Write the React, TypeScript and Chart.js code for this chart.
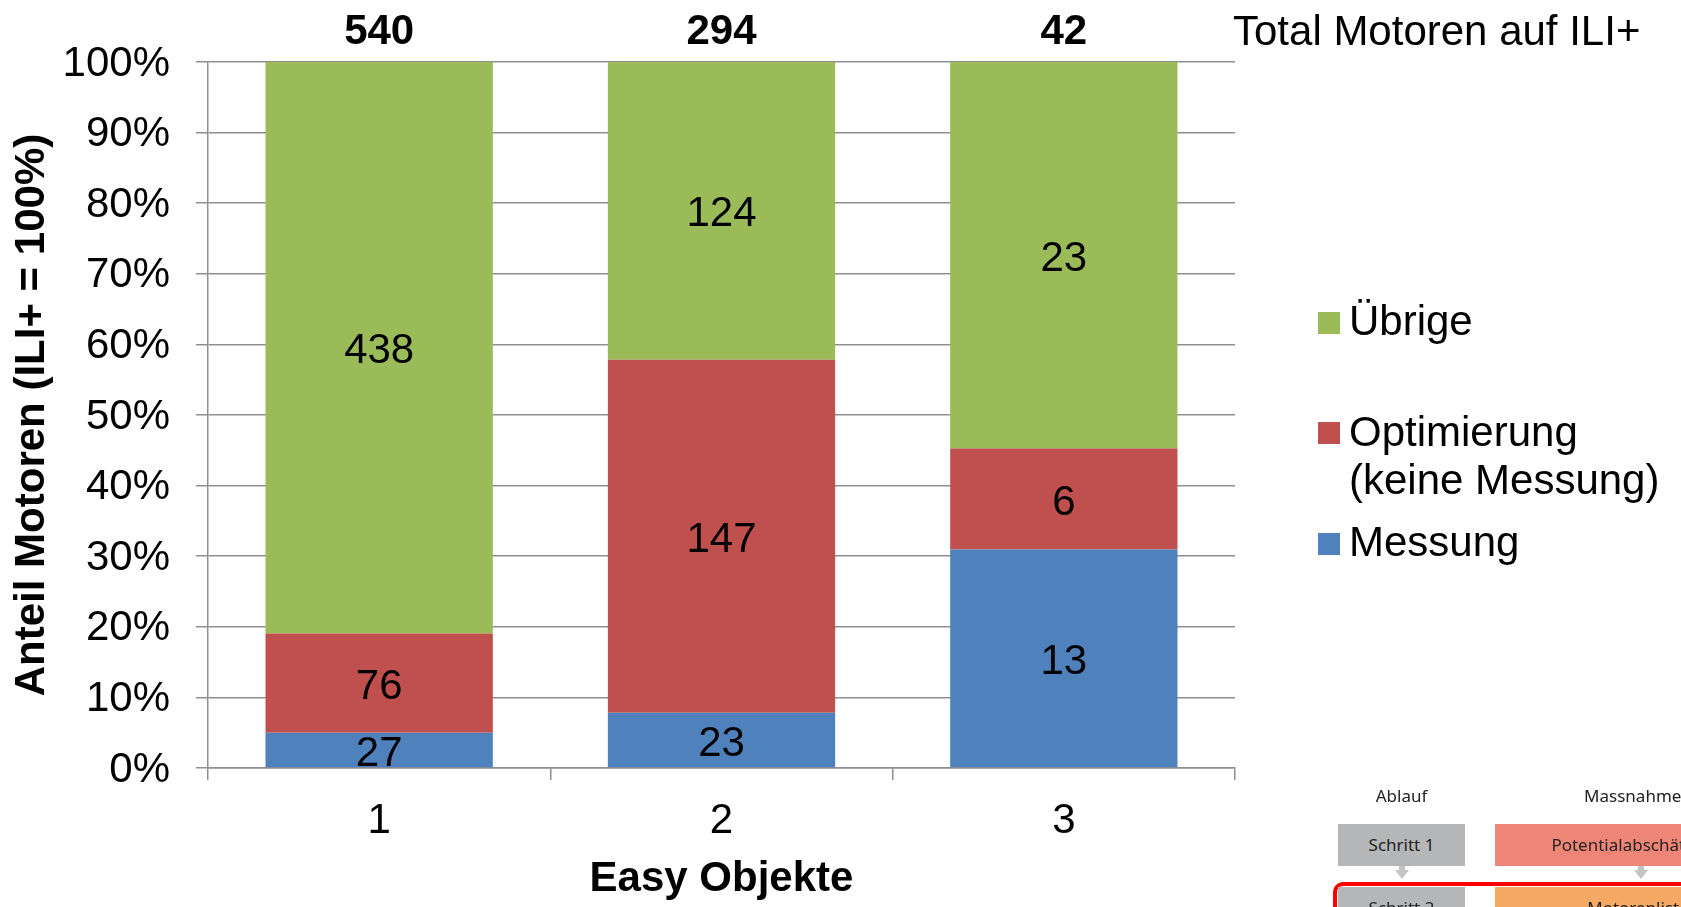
import React, { useEffect, useRef } from "react";
import { Chart, registerables } from "chart.js";

Chart.register(...registerables);

const categories = ["1", "2", "3"];
const messung = [27, 23, 13];
const optimierung = [76, 147, 6];
const uebrige = [438, 124, 23];
const totals = [540, 294, 42];
const seriesNames = ["Messung", "Optimierung (keine Messung)", "Übrige"];
const seriesColors = ["#4F81BD", "#C0504D", "#9BBB59"];
const totalLabel = "Total Motoren auf ILI+";

const FONT = '"Liberation Sans", Arial, sans-serif';
const GRID = "#8f8f8f";

const series = [messung, optimierung, uebrige];
const sums = categories.map((_, i) => series.reduce((a, s) => a + s[i], 0));
const pct = (arr: number[]) => arr.map((v, i) => (v / sums[i]) * 100);

const labelPlugin = {
  id: "segLabels",
  afterDatasetsDraw(chart: any) {
    const ctx = chart.ctx;
    ctx.save();
    ctx.fillStyle = "#000";
    ctx.textAlign = "center";
    ctx.textBaseline = "middle";
    ctx.font = `42px ${FONT}`;
    chart.data.datasets.forEach((ds: any, di: number) => {
      const meta = chart.getDatasetMeta(di);
      meta.data.forEach((el: any, i: number) => {
        const y = (el.y + el.base) / 2;
        ctx.fillText(String(series[di][i]), el.x, y + 4);
      });
    });
    // totals above bars
    ctx.font = `bold 42px ${FONT}`;
    const xs = chart.scales.x;
    totals.forEach((t, i) => {
      ctx.fillText(String(t), xs.getPixelForValue(i), 32);
    });
    ctx.restore();
  },
};

export default function App() {
  const ref = useRef<HTMLCanvasElement | null>(null);
  useEffect(() => {
    if (!ref.current) return;
    const chart = new Chart(ref.current, {
      type: "bar",
      data: {
        labels: categories,
        datasets: series.map((s, i) => ({
          label: seriesNames[i],
          data: pct(s),
          backgroundColor: seriesColors[i],
          borderWidth: 0,
          categoryPercentage: 1,
          barPercentage: 0.664,
        })),
      },
      options: {
        responsive: false,
        animation: false,
        devicePixelRatio: 1,
        layout: { padding: { top: 62, right: 446, left: 0, bottom: 0 } },
        plugins: { legend: { display: false }, tooltip: { enabled: false } },
        scales: {
          x: {
            stacked: true,
            grid: {
              display: true,
              drawOnChartArea: false,
              drawTicks: true,
              tickLength: 12,
              color: GRID,
              lineWidth: 1.5,
              offset: true,
            },
            border: { display: true, color: GRID, width: 1.5 },
            ticks: { font: { size: 42, family: FONT }, color: "#000", padding: 16 },
            title: {
              display: true,
              text: "Easy Objekte",
              color: "#000",
              font: { size: 42, weight: "bold", family: FONT },
              padding: { top: 0, bottom: 2 },
            },
            afterFit(s: any) {
              s.height = 139;
            },
          },
          y: {
            stacked: true,
            min: 0,
            max: 100,
            ticks: {
              stepSize: 10,
              callback: (v: any) => v + "%",
              font: { size: 42, family: FONT },
              color: "#000",
              padding: 26,
              labelOffset: 2,
            },
            grid: { color: GRID, lineWidth: 1.5, tickLength: 12 },
            border: { display: true, color: GRID, width: 1.5 },
            title: {
              display: true,
              text: "Anteil Motoren (ILI+ = 100%)",
              color: "#000",
              font: { size: 42, weight: "bold", family: FONT },
              padding: { top: 7, bottom: 0 },
            },
            afterFit(s: any) {
              s.width = 208;
            },
          },
        },
      } as any,
      plugins: [labelPlugin],
    });
    return () => chart.destroy();
  }, []);

  const legendText: React.CSSProperties = {
    position: "absolute",
    left: 1349,
    fontFamily: FONT,
    fontSize: 42,
    lineHeight: "48px",
    color: "#000",
    whiteSpace: "nowrap",
  };
  const sq = (top: number, color: string): React.CSSProperties => ({
    position: "absolute",
    left: 1318,
    top,
    width: 22,
    height: 22,
    background: color,
  });
  const small: React.CSSProperties = {
    position: "absolute",
    fontFamily: '"Noto Sans", Roboto, sans-serif',
    fontSize: 17,
    color: "#222",
    textAlign: "center",
    whiteSpace: "nowrap",
  };
  const box = (left: number, top: number, width: number, bg: string): React.CSSProperties => ({
    ...small,
    left,
    top,
    width,
    height: 42,
    lineHeight: "42px",
    background: bg,
  });
  const arrow = (cx: number): React.CSSProperties => ({
    position: "absolute",
    left: cx - 7,
    top: 870,
    width: 0,
    height: 0,
    borderLeft: "7px solid transparent",
    borderRight: "7px solid transparent",
    borderTop: "9px solid #c4c4c4",
  });

  return (
    <div
      style={{
        position: "fixed",
        left: 0,
        top: 0,
        width: 1681,
        height: 907,
        overflow: "hidden",
        background: "#fff",
      }}
    >
      <canvas ref={ref} width={1681} height={907} style={{ position: "absolute", left: 0, top: 0 }} />
      <div style={{ ...legendText, left: 1233, top: 7 }}>{totalLabel}</div>

      <div style={sq(312, seriesColors[2])} />
      <div style={{ ...legendText, top: 297 }}>{seriesNames[2]}</div>
      <div style={sq(422, seriesColors[1])} />
      <div style={{ ...legendText, top: 408 }}>
        Optimierung
        <br />
        (keine Messung)
      </div>
      <div style={sq(533, seriesColors[0])} />
      <div style={{ ...legendText, top: 518 }}>{seriesNames[0]}</div>

      {/* fragment of a process diagram in the lower right corner */}
      <div style={{ ...small, left: 1338, top: 783, width: 127, lineHeight: "26px" }}>Ablauf</div>
      <div style={{ ...small, left: 1495, top: 783, width: 286, lineHeight: "26px" }}>Massnahmen</div>
      <div style={box(1338, 824, 127, "#B5B6B8")}>Schritt 1</div>
      <div style={box(1495, 824, 286, "#EE8577")}>Potentialabschätzung</div>
      <div style={{ position: "absolute", left: 1399, top: 866, width: 6, height: 5, background: "#c4c4c4" }} />
      <div style={arrow(1402)} />
      <div style={{ position: "absolute", left: 1638, top: 866, width: 6, height: 5, background: "#c4c4c4" }} />
      <div style={arrow(1641)} />
      <div
        style={{
          position: "absolute",
          left: 1333,
          top: 882,
          width: 420,
          height: 120,
          border: "4px solid #FF0000",
          borderRadius: 10,
          boxSizing: "border-box",
        }}
      />
      <div style={box(1338, 887, 127, "#B5B6B8")}>Schritt 2</div>
      <div style={box(1495, 887, 286, "#F5A963")}>Motorenliste</div>
    </div>
  );
}
